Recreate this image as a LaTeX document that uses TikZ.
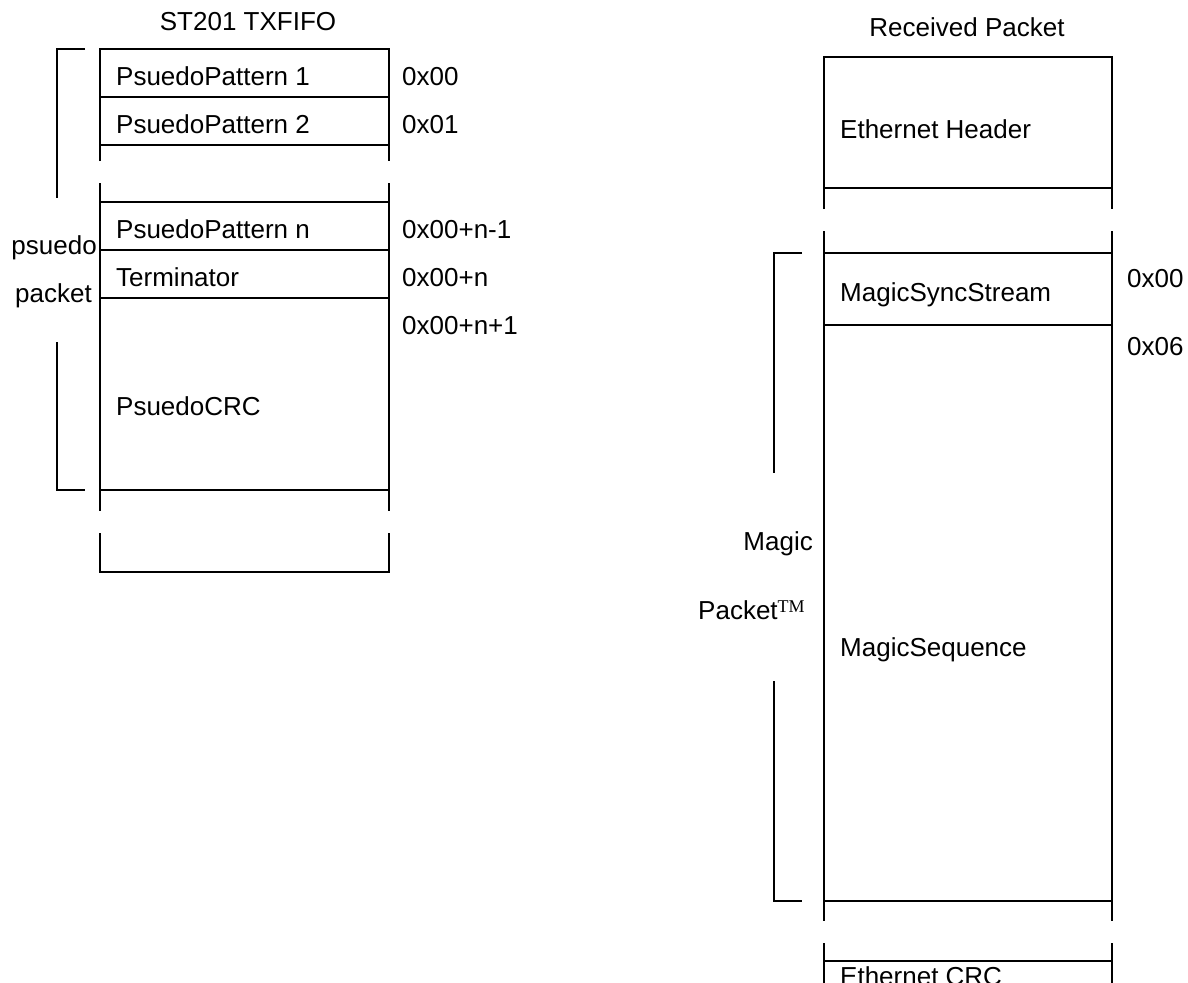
\documentclass[tikz,border=0pt]{standalone}
\usepackage{fontspec}
\setmainfont{Liberation Sans}
\newfontfamily\serifTM{Liberation Serif}
\begin{document}
\begin{tikzpicture}[x=1pt,y=-1pt,
  ln/.style={line width=1.4pt, line join=miter},
  lbl/.style={inner sep=0pt, anchor=base west, font=\fontsize{26}{31}\selectfont},
  lblr/.style={lbl, anchor=base east},
  ttl/.style={lbl, anchor=base}]
\clip (0,0) rectangle (1188,982);
% ---------- left: ST201 TXFIFO ----------
\node[ttl] (t1) at (248,31) {ST201 TXFIFO};
\draw[ln] (100,161) -- (100,49) -- (389,49) -- (389,161);
\draw[ln] (100,97) -- (389,97);
\draw[ln] (100,145) -- (389,145);
\draw[ln] (100,183) -- (100,511);
\draw[ln] (389,183) -- (389,511);
\draw[ln] (100,202) -- (389,202);
\draw[ln] (100,250) -- (389,250);
\draw[ln] (100,298) -- (389,298);
\draw[ln] (100,490) -- (389,490);
\draw[ln] (100,533) -- (100,572) -- (389,572) -- (389,533);
% bracket
\draw[ln] (85,49) -- (57,49) -- (57,198);
\draw[ln] (57,342) -- (57,490) -- (85,490);
% texts
\node[lbl] (pp1) at (116,85) {PsuedoPattern 1};
\node[lbl] (pp2) at (116,133) {PsuedoPattern 2};
\node[lbl] (ppn) at (116,238) {PsuedoPattern n};
\node[lbl] (term) at (116,286) {Terminator};
\node[lbl] (pcrc) at (116,415) {PsuedoCRC};
\node[lbl] (a0) at (402,85) {0x00};
\node[lbl] (a1) at (402,133) {0x01};
\node[lbl] (an1) at (402,238) {0x00+n-1};
\node[lbl] (an) at (402,286) {0x00+n};
\node[lbl] (anp) at (402,334) {0x00+n+1};
\node[lblr] (ps) at (97,254) {psuedo};
\node[lblr] (pk) at (92,302) {packet};
% ---------- right: Received Packet ----------
\node[ttl] (t2) at (967,37) {Received Packet};
\draw[ln] (824,209) -- (824,57) -- (1112,57) -- (1112,209);
\draw[ln] (824,188) -- (1112,188);
\draw[ln] (824,231) -- (824,921);
\draw[ln] (1112,231) -- (1112,921);
\draw[ln] (824,253) -- (1112,253);
\draw[ln] (824,325) -- (1112,325);
\draw[ln] (824,901) -- (1112,901);
\draw[ln] (824,943) -- (824,995);
\draw[ln] (1112,943) -- (1112,995);
\draw[ln] (824,961) -- (1112,961);
% bracket
\draw[ln] (802,253) -- (774,253) -- (774,473);
\draw[ln] (774,681) -- (774,901) -- (802,901);
% texts
\node[lbl] (eh) at (840,138) {Ethernet Header};
\node[lbl] (mss) at (840,301) {MagicSyncStream};
\node[lbl] (msq) at (840,656) {MagicSequence};
\node[lbl] (ecrc) at (840,985) {Ethernet CRC};
\node[lbl] (b0) at (1127,287) {0x00};
\node[lbl] (b6) at (1127,355) {0x06};
\node[lblr] (mg) at (813,550) {Magic};
\node[lbl] (pkt) at (698,619) {Packet\raisebox{7pt}{\fontsize{18}{18}\selectfont\serifTM TM}};
\end{tikzpicture}
\end{document}
